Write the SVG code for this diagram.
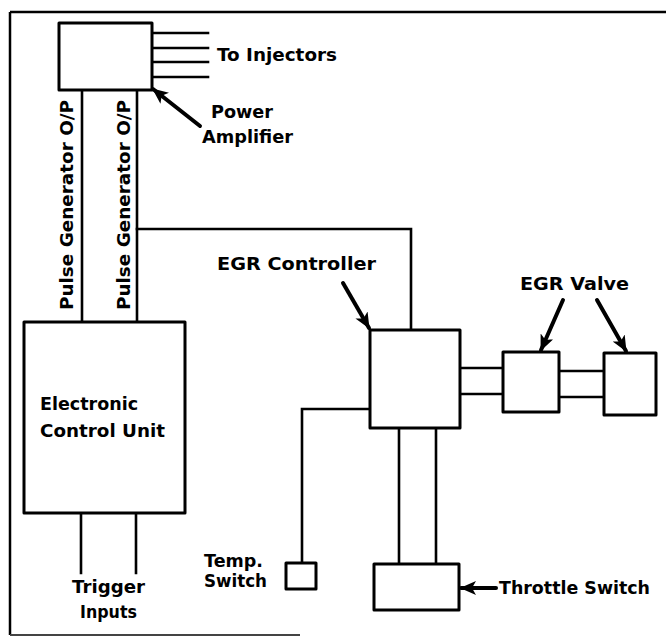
<svg xmlns="http://www.w3.org/2000/svg" width="666" height="637" viewBox="0 0 666 637">
<style>
.box{fill:#fff;stroke:#000;stroke-width:3;stroke-linejoin:round}
.ln{fill:none;stroke:#000;stroke-width:2.6;stroke-linecap:square}
.arr{fill:none;stroke:#000;stroke-width:4;stroke-linecap:round}
.t{font-family:"DejaVu Sans","Liberation Sans",sans-serif;font-weight:bold;font-size:17.5px;fill:#000}
</style>
<defs>
<marker id="ah" markerUnits="userSpaceOnUse" markerWidth="18" markerHeight="14" refX="15" refY="7" orient="auto" viewBox="0 0 18 14">
<path d="M0,0 L16,7 L0,14 L4,7 Z" fill="#000"/>
</marker>
</defs>
<rect width="666" height="637" fill="#fff"/>
<g id="frame">
<line x1="10" y1="12" x2="666" y2="12" stroke="#000" stroke-width="2.5"/>
<line x1="10" y1="12" x2="10" y2="635" stroke="#000" stroke-width="2.5"/>
<line x1="10" y1="635" x2="300" y2="635" stroke="#444" stroke-width="2"/>
</g>
<g id="connectors">
<path class="ln" d="M152,33 H208 M152,48 H208 M152,62 H208 M152,77 H208"/>
<path class="ln" d="M82,90 V322 M137,90 V322"/>
<path class="ln" d="M137,229 H411 V330"/>
<path class="ln" d="M81,513 V573 M136,513 V573"/>
<path class="ln" d="M370,409 H302 V563"/>
<path class="ln" d="M460,368 H503 M460,394 H503"/>
<path class="ln" d="M559,371 H604 M559,397 H604"/>
<path class="ln" d="M399,428 V564 M436,428 V564"/>
<line class="arr" x1="200" y1="126" x2="153" y2="89" marker-end="url(#ah)"/>
<line class="arr" x1="343" y1="283" x2="369" y2="328" marker-end="url(#ah)"/>
<line class="arr" x1="563" y1="300" x2="541" y2="350" marker-end="url(#ah)"/>
<line class="arr" x1="597" y1="300" x2="626" y2="351" marker-end="url(#ah)"/>
<line class="arr" x1="496" y1="588" x2="461" y2="588" stroke-width="3" marker-end="url(#ah)"/>
</g>
<g id="power-amplifier">
<rect class="box" x="59" y="23" width="93" height="67"/>
<text class="t" x="217" y="61" textLength="120" lengthAdjust="spacingAndGlyphs">To Injectors</text>
<text class="t" x="211" y="118" textLength="62" lengthAdjust="spacingAndGlyphs">Power</text>
<text class="t" x="202" y="143" textLength="91" lengthAdjust="spacingAndGlyphs">Amplifier</text>
</g>
<g id="pulse-labels">
<text class="t" transform="translate(73,310) rotate(-90)" textLength="210" lengthAdjust="spacingAndGlyphs">Pulse Generator O/P</text>
<text class="t" transform="translate(130,310) rotate(-90)" textLength="210" lengthAdjust="spacingAndGlyphs">Pulse Generator O/P</text>
</g>
<g id="ecu">
<rect class="box" x="24" y="322" width="161" height="191"/>
<text class="t" x="40" y="410" textLength="98" lengthAdjust="spacingAndGlyphs">Electronic</text>
<text class="t" x="40" y="437" textLength="125" lengthAdjust="spacingAndGlyphs">Control Unit</text>
<text class="t" x="72" y="593" textLength="73" lengthAdjust="spacingAndGlyphs">Trigger</text>
<text class="t" x="80" y="618" textLength="57" lengthAdjust="spacingAndGlyphs">Inputs</text>
</g>
<g id="egr-controller">
<rect class="box" x="370" y="330" width="90" height="98"/>
<text class="t" x="217" y="270" textLength="159" lengthAdjust="spacingAndGlyphs">EGR Controller</text>
</g>
<g id="egr-valve">
<rect class="box" x="503" y="352" width="56" height="60"/>
<rect class="box" x="604" y="353" width="52" height="62"/>
<text class="t" x="520" y="290" textLength="109" lengthAdjust="spacingAndGlyphs">EGR Valve</text>
</g>
<g id="temp-switch">
<rect class="box" x="286" y="563" width="30" height="26" stroke-width="2.5"/>
<text class="t" x="204" y="567" textLength="59" lengthAdjust="spacingAndGlyphs">Temp.</text>
<text class="t" x="204" y="587" textLength="63" lengthAdjust="spacingAndGlyphs">Switch</text>
</g>
<g id="throttle-switch">
<rect class="box" x="374" y="564" width="85" height="46"/>
<text class="t" x="499" y="594" textLength="151" lengthAdjust="spacingAndGlyphs">Throttle Switch</text>
</g>
</svg>
